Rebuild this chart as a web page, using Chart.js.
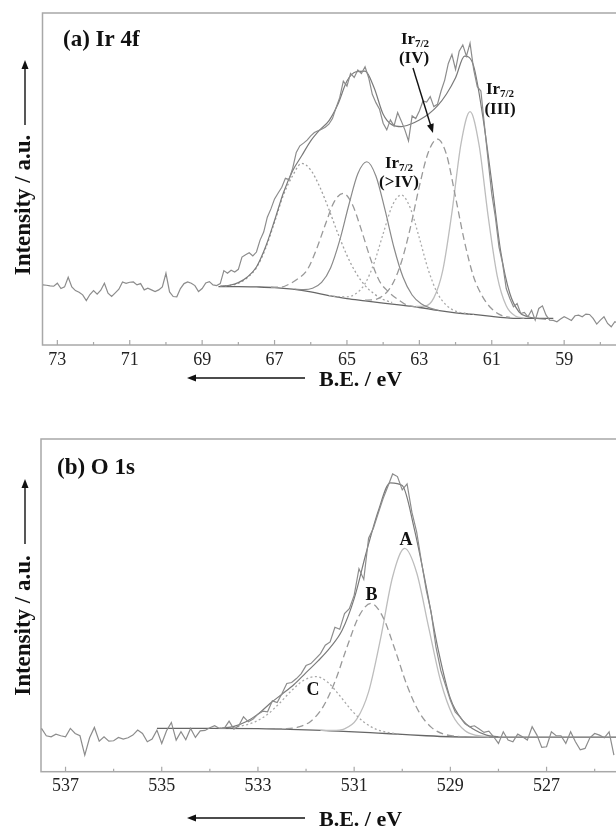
<!DOCTYPE html>
<html>
<head>
<meta charset="utf-8">
<script src="https://cdn.jsdelivr.net/npm/chart.js@4.4.0/dist/chart.umd.min.js"></script>
<style>
  html, body { margin: 0; padding: 0; width: 616px; height: 828px; overflow: hidden; background: #fff; }
  canvas { position: absolute; left: 0; }
  #chartA { top: 0; }
  #chartB { top: 414px; }
</style>
</head>
<body>
<canvas id="chartA" width="660" height="414"></canvas>
<canvas id="chartB" width="660" height="414"></canvas>
<script>
// ---- (a) Ir 4f ----
// raw spectrum, 73.4 eV down to 57.3 eV every 0.1 eV
const rawIrStart = 73.4;
const rawIr = [
  18.1, 18.0, 17.8, 17.7, 18.6, 17.0, 17.5, 20.4, 17.5, 16.4,
  15.9, 15.1, 13.4, 15.2, 16.4, 15.3, 16.5, 18.6, 15.6, 14.6,
  15.7, 16.8, 19.0, 18.6, 18.9, 19.0, 18.1, 18.5, 16.6, 17.1,
  16.6, 16.1, 16.6, 17.5, 21.6, 16.0, 14.6, 14.5, 17.0, 18.5,
  19.0, 18.6, 17.9, 16.1, 17.0, 18.7, 19.1, 18.1, 17.9, 18.5,
  22.4, 21.6, 22.5, 22.0, 22.8, 26.5, 27.2, 27.8, 26.8, 28.0,
  31.6, 34.0, 38.5, 41.0, 44.0, 45.8, 47.5, 50.2, 49.8, 53.2,
  58.0, 60.0, 60.8, 61.7, 63.0, 64.0, 64.5, 65.0, 65.6, 66.5,
  68.2, 71.5, 74.5, 79.5, 78.0, 81.8, 80.6, 82.8, 81.8, 83.8,
  80.5, 75.5, 73.0, 71.0, 66.8, 64.8, 67.8, 66.0, 70.0, 67.5,
  64.8, 61.5, 69.0, 68.2, 70.5, 73.5, 73.2, 74.8, 71.8, 72.5,
  76.5, 79.8, 84.8, 87.5, 83.0, 88.5, 90.4, 87.0, 90.9, 83.0,
  77.8, 76.5, 66.0, 55.5, 45.5, 38.5, 29.5, 24.5, 17.0, 14.0,
  11.5, 12.5, 9.5, 9.8, 8.5, 10.5, 7.5, 11.0, 11.8, 9.0,
  7.5, 7.4, 7.0, 7.8, 8.5, 8.0, 7.4, 8.8, 9.0, 8.5,
  9.3, 9.2, 8.0, 6.3, 7.5, 8.5, 6.5, 5.5, 7.0, 6.5,
  7.8, 6.8
];
// fitted envelope, 68.5 eV down every 0.25 eV
const fitIrStart = 68.5;
const fitIr = [
  17.7, 18.0, 18.8, 20.5, 23.5, 29.5, 37.5, 46.0, 52.5, 57.0,
  61.5, 64.8, 67.5, 72.5, 79.5, 82.3, 82.5, 77.5, 69.5, 66.3,
  65.8, 66.5, 67.8, 69.5, 72.0, 75.6, 80.5, 87.0, 84.0, 69.0,
  49.0, 28.0, 15.5, 10.0, 8.5, 8.0, 7.8
];
// components, every 0.25 eV from their start
const ir1Start = 68.5;   // 4f5/2 (>IV), dotted
const ir1 = [17.7, 17.9, 18.6, 20.3, 23.3, 29.0, 37.0, 45.3, 51.0, 54.7, 52.7, 47.6, 40.9, 33.6, 27.0, 21.7, 17.9, 15.4, 13.7, 12.8];
const ir2Start = 67.1;   // 4f5/2 (IV), dashed
const ir2 = [17.4, 17.4, 18.3, 20.0, 22.6, 28.6, 36.2, 43.2, 45.7, 42.3, 34.6, 26.0, 19.2, 16.0, 13.8, 12.05, 11.5];
const ir3Start = 66.45;  // 4f5/2 (III), solid
const ir3 = [16.8, 16.7, 17.1, 18.85, 23.3, 31.5, 42.1, 51.6, 55.2, 50.9, 40.75, 29.3, 20.4, 15.05, 12.4, 11.1, 10.4];
const ir4Start = 65.5;   // 4f7/2 (>IV), dotted
const ir4 = [14.9, 14.6, 14.5, 15.5, 18.5, 24.7, 33.5, 41.9, 45.2, 41.25, 32.2, 22.55, 15.6, 11.95, 10.2, 9.6, 9.2];
const ir5Start = 64.5;   // 4f7/2 (IV), dashed
const ir5 = [13.5, 13.65, 14.9, 18.2, 24.85, 35.25, 47.8, 58.15, 62.0, 57.35, 44.5, 31.0, 20.5, 14.5, 10.9, 9.0, 8.3];
const ir6Start = 63.1;   // 4f7/2 (III), light solid
const ir6 = [11.6, 11.7, 14.2, 22.65, 39.95, 60.6, 70.3, 60.2, 38.8, 20.85, 11.8, 8.75, 8.1];
// Shirley background
const bgIrE = [68.55, 68.0, 67.5, 67.0, 66.5, 66.0, 65.5, 65.0, 64.5, 64.0, 63.5, 63.0, 62.5, 62.0, 61.5, 61.0, 60.5, 60.0, 59.3];
const bgIr = [17.6, 17.6, 17.5, 17.3, 16.8, 16.0, 14.9, 14.0, 13.3, 12.6, 12.0, 11.3, 10.4, 9.7, 9.2, 8.6, 8.1, 8.0, 8.0];
const ticksIr = [73, 71, 69, 67, 65, 63, 61, 59, 57];
const minorIr = [72, 70, 68, 66, 64, 62, 60, 58];

// ---- (b) O 1s ----
const rawOStart = 537.5;
const rawO = [
  13.0, 10.8, 10.5, 11.3, 10.8, 10.5, 13.0, 11.5, 10.8, 5.0,
  10.2, 13.3, 9.2, 10.5, 9.2, 9.3, 10.3, 9.8, 10.2, 11.0,
  12.5, 11.5, 9.0, 9.8, 12.5, 8.5, 12.3, 14.8, 9.5, 12.0,
  9.6, 13.0, 10.3, 12.3, 12.4, 13.2, 13.8, 13.0, 13.0, 15.2,
  12.8, 13.8, 16.5, 15.0, 15.8, 17.3, 18.2, 18.0, 21.3, 20.8,
  23.5, 26.5, 26.8, 28.0, 29.5, 31.9, 32.5, 34.0, 35.5, 38.0,
  39.0, 43.4, 42.8, 47.5, 49.0, 53.0, 61.0, 57.8, 70.2, 73.2,
  77.7, 82.0, 85.7, 89.5, 88.7, 84.7, 86.5, 78.0, 72.0, 63.0,
  54.5, 48.0, 37.5, 30.5, 26.0, 21.5, 18.0, 16.5, 14.5, 13.5,
  13.8, 12.8, 11.8, 12.2, 10.5, 8.5, 12.0, 9.5, 9.0, 11.3,
  10.5, 9.5, 13.5, 11.0, 7.3, 7.5, 12.0, 10.8, 10.8, 8.5,
  12.0, 9.0, 6.6, 7.0, 10.2, 11.5, 11.0, 10.2, 12.0, 5.0
];
const fitOStart = 533.75;
const fitO = [13.1, 13.6, 15.0, 17.3, 20.5, 23.3, 26.2, 29.8, 33.3, 37.3, 42.5, 52.0, 65.8, 78.3, 86.8, 86.0, 73.0, 55.5, 36.5, 22.0, 15.5, 12.6, 11.0, 10.5];
const oAStart = 531.7;   // A, light solid
const oA = [12.4, 12.4, 12.9, 15.7, 24.0, 40.1, 58.6, 67.1, 59.8, 43.3, 27.1, 16.9, 12.4, 10.9, 10.5];
const oBStart = 532.65;  // B, dashed
const oB = [12.9, 12.95, 13.45, 15.2, 19.4, 27.05, 37.4, 46.75, 50.6, 46.4, 36.65, 25.9, 17.9, 13.4, 11.35, 10.7, 10.45];
const oCStart = 533.8;   // C, dotted
const oC = [13.1, 13.3, 13.9, 15.05, 17.25, 20.6, 24.4, 27.45, 28.6, 26.9, 22.85, 18.4, 14.95, 12.8, 11.8, 11.35];
const bgOE = [535.1, 534.0, 533.0, 532.5, 532.0, 531.5, 531.0, 530.5, 530.0, 529.5, 529.0, 528.5, 527.5, 526.5, 525.2];
const bgO = [13.0, 13.0, 12.95, 12.8, 12.6, 12.3, 12.0, 11.6, 11.2, 10.8, 10.5, 10.4, 10.4, 10.4, 10.4];
const ticksO = [537, 535, 533, 531, 529, 527, 525];
const minorO = [536, 534, 532, 530, 528, 526];

const SERIF = '"Liberation Serif", "Times New Roman", serif';

function series(start, step, values) {
  return values.map((v, i) => ({ x: +(start - i * step).toFixed(3), y: v }));
}
function pairs(xs, ys) {
  return xs.map((x, i) => ({ x: x, y: ys[i] }));
}
function line(data, color, width, dash, smooth) {
  return {
    data: data,
    borderColor: color,
    borderWidth: width,
    borderDash: dash || [],
    pointRadius: 0,
    fill: false,
    tension: smooth ? 0.4 : 0,
    cubicInterpolationMode: smooth ? 'monotone' : 'default'
  };
}

function arrow(ctx, x1, y1, x2, y2) {
  const a = Math.atan2(y2 - y1, x2 - x1);
  ctx.save();
  ctx.strokeStyle = '#111';
  ctx.fillStyle = '#111';
  ctx.lineWidth = 1.4;
  ctx.beginPath();
  ctx.moveTo(x1, y1);
  ctx.lineTo(x2 - 6 * Math.cos(a), y2 - 6 * Math.sin(a));
  ctx.stroke();
  ctx.beginPath();
  ctx.moveTo(x2, y2);
  ctx.lineTo(x2 - 9 * Math.cos(a) + 3.5 * Math.sin(a), y2 - 9 * Math.sin(a) - 3.5 * Math.cos(a));
  ctx.lineTo(x2 - 9 * Math.cos(a) - 3.5 * Math.sin(a), y2 - 9 * Math.sin(a) + 3.5 * Math.cos(a));
  ctx.closePath();
  ctx.fill();
  ctx.restore();
}

// "Ir" with a 7/2 subscript, centred on cx
function irLabel(ctx, cx, y) {
  ctx.font = 'bold 17px ' + SERIF;
  const w1 = ctx.measureText('Ir').width;
  ctx.font = 'bold 11px ' + SERIF;
  const w2 = ctx.measureText('7/2').width;
  const x0 = cx - (w1 + w2) / 2;
  ctx.textAlign = 'left';
  ctx.font = 'bold 17px ' + SERIF;
  ctx.fillText('Ir', x0, y);
  ctx.font = 'bold 11px ' + SERIF;
  ctx.fillText('7/2', x0 + w1, y + 3);
}

function decorPlugin(cfg) {
  return {
    id: 'decor',
    beforeDatasetsDraw(chart) {
      const ctx = chart.ctx, a = chart.chartArea, xs = chart.scales.x;
      ctx.save();
      ctx.strokeStyle = '#a8a8a8';
      ctx.lineWidth = 1.5;
      ctx.strokeRect(a.left, a.top, a.right - a.left, a.bottom - a.top);
      ctx.lineWidth = 1.2;
      ctx.beginPath();
      cfg.ticks.forEach(v => {
        const px = xs.getPixelForValue(v);
        ctx.moveTo(px, a.bottom); ctx.lineTo(px, a.bottom - 5);
      });
      cfg.minor.forEach(v => {
        const px = xs.getPixelForValue(v);
        ctx.moveTo(px, a.bottom); ctx.lineTo(px, a.bottom - 3);
      });
      ctx.stroke();
      ctx.restore();
    },
    afterDraw(chart) {
      const ctx = chart.ctx;
      ctx.save();
      ctx.fillStyle = '#111';
      ctx.textBaseline = 'alphabetic';
      // panel title
      ctx.font = 'bold 23px ' + SERIF;
      ctx.textAlign = 'left';
      ctx.fillText(cfg.title, cfg.titleX, cfg.titleY);
      // x axis title with arrow
      ctx.font = 'bold 22px ' + SERIF;
      ctx.fillText('B.E. / eV', 319, cfg.xTitleY);
      arrow(ctx, 305, cfg.xArrowY, 187, cfg.xArrowY);
      // y axis title with arrow
      ctx.save();
      ctx.translate(24, cfg.yTitleY);
      ctx.rotate(-Math.PI / 2);
      ctx.textAlign = 'center';
      ctx.textBaseline = 'middle';
      ctx.font = 'bold 23px ' + SERIF;
      ctx.fillText('Intensity / a.u.', 0, 0);
      ctx.restore();
      arrow(ctx, 25, cfg.yArrowFrom, 25, cfg.yArrowTo);
      cfg.labels(ctx);
      ctx.restore();
    }
  };
}

function makeChart(id, cfg) {
  return new Chart(document.getElementById(id), {
    type: 'line',
    data: { datasets: cfg.datasets },
    options: {
      responsive: false,
      animation: false,
      events: [],
      layout: { padding: { top: cfg.top, right: 20, left: 0, bottom: 0 } },
      plugins: { legend: { display: false }, tooltip: { enabled: false } },
      scales: {
        x: {
          type: 'linear',
          reverse: true,
          min: cfg.min,
          max: cfg.max,
          afterBuildTicks: s => { s.ticks = cfg.ticks.map(v => ({ value: v })); },
          afterFit: s => { s.height = cfg.axisH; },
          grid: { display: false, drawTicks: false },
          border: { display: false },
          ticks: {
            padding: 4,
            color: '#222',
            autoSkip: false,
            maxRotation: 0,
            font: { family: SERIF, size: 18 },
            callback: v => String(v)
          }
        },
        y: {
          min: 0,
          max: 100,
          afterFit: s => { s.width = cfg.left; },
          ticks: { display: false },
          grid: { display: false },
          border: { display: false }
        }
      }
    },
    plugins: [decorPlugin(cfg)]
  });
}

makeChart('chartA', {
  top: 13, axisH: 69, left: 42.5, min: 56.905, max: 73.41,
  ticks: ticksIr, minor: minorIr,
  title: '(a) Ir 4f', titleX: 63, titleY: 46,
  xTitleY: 386, xArrowY: 378,
  yTitleY: 205, yArrowFrom: 125, yArrowTo: 60,
  datasets: [
    line(series(rawIrStart, 0.1, rawIr), '#8c8c8c', 1.2),
    line(series(fitIrStart, 0.25, fitIr), '#7a7a7a', 1.2, null, true),
    line(series(ir1Start, 0.25, ir1), '#a0a0a0', 1.3, [2, 2.5], true),
    line(series(ir2Start, 0.25, ir2), '#999999', 1.3, [7, 4], true),
    line(series(ir3Start, 0.25, ir3), '#8a8a8a', 1.2, null, true),
    line(series(ir4Start, 0.25, ir4), '#ababab', 1.3, [2, 2.5], true),
    line(series(ir5Start, 0.25, ir5), '#999999', 1.3, [7, 4], true),
    line(series(ir6Start, 0.25, ir6), '#bdbdbd', 1.3, null, true),
    line(pairs(bgIrE, bgIr), '#666666', 1.3, null, true)
  ],
  labels: ctx => {
    irLabel(ctx, 415, 43.5);
    ctx.font = 'bold 17px ' + SERIF;
    ctx.textAlign = 'center';
    ctx.fillText('(IV)', 414, 62.5);
    arrow(ctx, 413, 68, 433, 133);
    irLabel(ctx, 500, 93.5);
    ctx.font = 'bold 17px ' + SERIF;
    ctx.textAlign = 'center';
    ctx.fillText('(III)', 500, 114);
    irLabel(ctx, 399, 168);
    ctx.font = 'bold 17px ' + SERIF;
    ctx.textAlign = 'center';
    ctx.fillText('(>IV)', 399, 186.5);
  }
});

makeChart('chartB', {
  top: 25, axisH: 56.3, left: 41, min: 525.17, max: 537.51,
  ticks: ticksO, minor: minorO,
  title: '(b) O 1s', titleX: 57, titleY: 60,
  xTitleY: 412, xArrowY: 404,
  yTitleY: 211.5, yArrowFrom: 130, yArrowTo: 65,
  datasets: [
    line(series(rawOStart, 0.1, rawO), '#8c8c8c', 1.2),
    line(series(fitOStart, 0.25, fitO), '#7a7a7a', 1.2, null, true),
    line(series(oCStart, 0.25, oC), '#a8a8a8', 1.3, [2, 2.5], true),
    line(series(oBStart, 0.25, oB), '#999999', 1.3, [7, 4], true),
    line(series(oAStart, 0.25, oA), '#bdbdbd', 1.3, null, true),
    line(pairs(bgOE, bgO), '#666666', 1.3, null, true)
  ],
  labels: ctx => {
    ctx.font = 'bold 18px ' + SERIF;
    ctx.textAlign = 'center';
    ctx.fillText('A', 406, 131);
    ctx.fillText('B', 371.5, 186);
    ctx.fillText('C', 313, 281);
  }
});
</script>
</body>
</html>
